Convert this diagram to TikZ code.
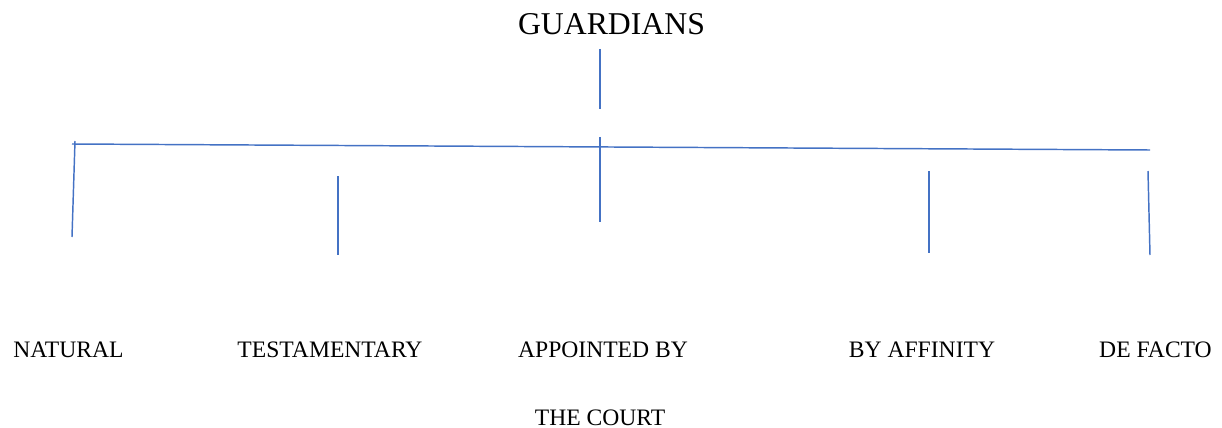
\documentclass[tikz,border=0pt]{standalone}
\usepackage{fontspec}
\setmainfont{Liberation Serif}

\tikzset{every picture/.style={line width=1.1pt}}
\tikzset{
  branch/.style={draw={rgb, 255:red, 68; green, 114; blue, 196 }},
  kind/.style={anchor=base, inner sep=0pt, font=\fontsize{17.7}{20}\selectfont},
  head/.style={anchor=base, inner sep=0pt, font=\fontsize{23.8}{28}\selectfont}
}

\begin{document}
\begin{tikzpicture}[x=0.75pt, y=0.75pt, yscale=-1,xscale=1]

    \useasboundingbox (0,0) rectangle (1222,428);

    \draw (611.5,35) node [head] (guardians) {GUARDIANS};

    \draw (68.5,357) node [kind] (natural) {NATURAL};
    \draw (330,357) node [kind] (testamentary) {TESTAMENTARY};
    \draw (603,357) node [kind] (appointed) {APPOINTED BY};
    \draw (600,425) node [kind] (court) {THE COURT};
    \draw (922,357) node [kind] (affinity) {BY AFFINITY};
    \draw (1155.5,357) node [kind] (defacto) {DE FACTO};

    % stubs and trunk
    \coordinate (stub top) at (600,49);
    \coordinate (stub end) at (600,109);
    \coordinate (trunk west) at (72,144);
    \coordinate (trunk east) at (1150,150);

    \coordinate (natural top) at (75,141);
    \coordinate (natural end) at (72,237);
    \coordinate (testamentary top) at (338,176);
    \coordinate (testamentary end) at (338,255);
    \coordinate (appointed top) at (600,137);
    \coordinate (appointed end) at (600,222);
    \coordinate (affinity top) at (929,171);
    \coordinate (affinity end) at (929,253);
    \coordinate (defacto top) at (1148,171);
    \coordinate (defacto end) at (1150,255);

    \draw [branch] (stub top) -- (stub end);
    \draw [branch] (trunk west) -- (trunk east);

    \draw [branch] (natural top) -- (natural end);
    \draw [branch] (testamentary top) -- (testamentary end);
    \draw [branch] (appointed top) -- (appointed end);
    \draw [branch] (affinity top) -- (affinity end);
    \draw [branch] (defacto top) -- (defacto end);

  \end{tikzpicture}
\end{document}
